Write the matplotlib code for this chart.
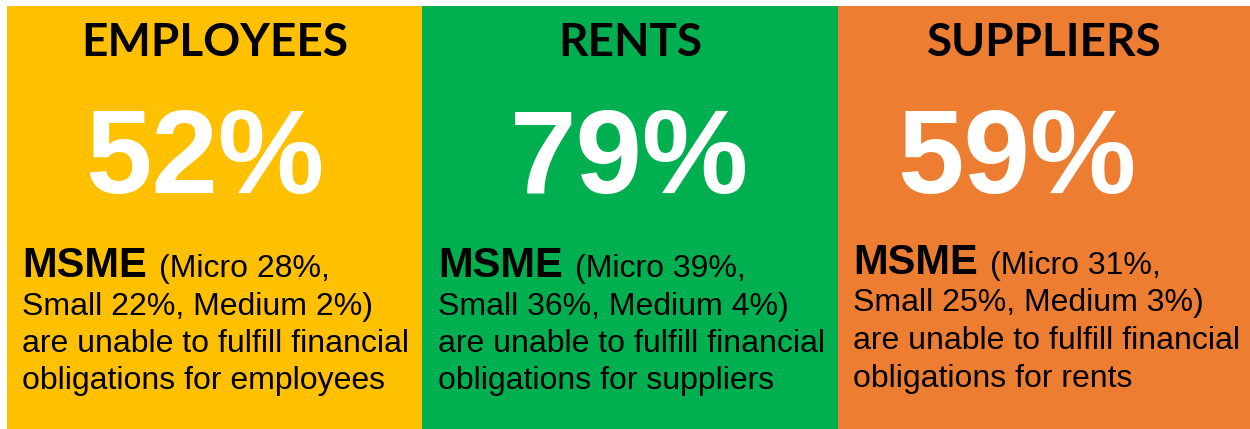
import matplotlib.pyplot as plt

# panel content
categories = ["EMPLOYEES", "RENTS", "SUPPLIERS"]
totals = [52, 79, 59]
micro = [28, 39, 31]
small = [22, 36, 25]
medium = [2, 4, 3]
targets = ["employees", "suppliers", "rents"]
colors = ["#FFC000", "#00B050", "#ED7D31"]

# layout (pixels)
edges = [7, 422, 838, 1250]
num_x = [205, 629, 1017]
text_x = [22, 438, 853]
msme_y = [277, 277, 274]
line_gap = 37.5

fig = plt.figure(figsize=(12.5, 4.29), dpi=100)
ax = fig.add_axes([0, 0, 1, 1])
ax.set_xlim(0, 1250)
ax.set_ylim(429, 0)
ax.axis("off")

lefts = edges[:-1]
widths = [edges[i + 1] - edges[i] for i in range(3)]
ax.bar(lefts, [429 - 6] * 3, width=widths, bottom=6, align="edge",
       color=colors, linewidth=0)

for i, cat in enumerate(categories):
    cx = lefts[i] + widths[i] / 2
    ax.text(cx, 56, cat, ha="center", va="baseline", fontsize=33,
            fontweight="bold", family="Lato", color="black")
    ax.text(num_x[i], 193, f"{totals[i]}%", ha="center", va="baseline",
            fontsize=86, fontweight="bold", family="Liberation Sans",
            color="white")

    y0 = msme_y[i]
    t = ax.text(text_x[i], y0, "MSME", ha="left", va="baseline", fontsize=30,
                fontweight="bold", family="Liberation Sans", color="black")
    ax.annotate(f"(Micro {micro[i]}%,", xy=(1, y0), xycoords=(t, "data"),
                xytext=(9, 0), textcoords="offset points", ha="left",
                va="baseline", fontsize=23, family="Liberation Sans",
                color="black")
    lines = [f"Small {small[i]}%, Medium {medium[i]}%)",
             "are unable to fulfill financial",
             f"obligations for {targets[i]}"]
    for k, line in enumerate(lines):
        ax.text(text_x[i], y0 + line_gap * (k + 1), line, ha="left",
                va="baseline", fontsize=23, family="Liberation Sans",
                color="black")

plt.savefig("out.png", dpi=100)
